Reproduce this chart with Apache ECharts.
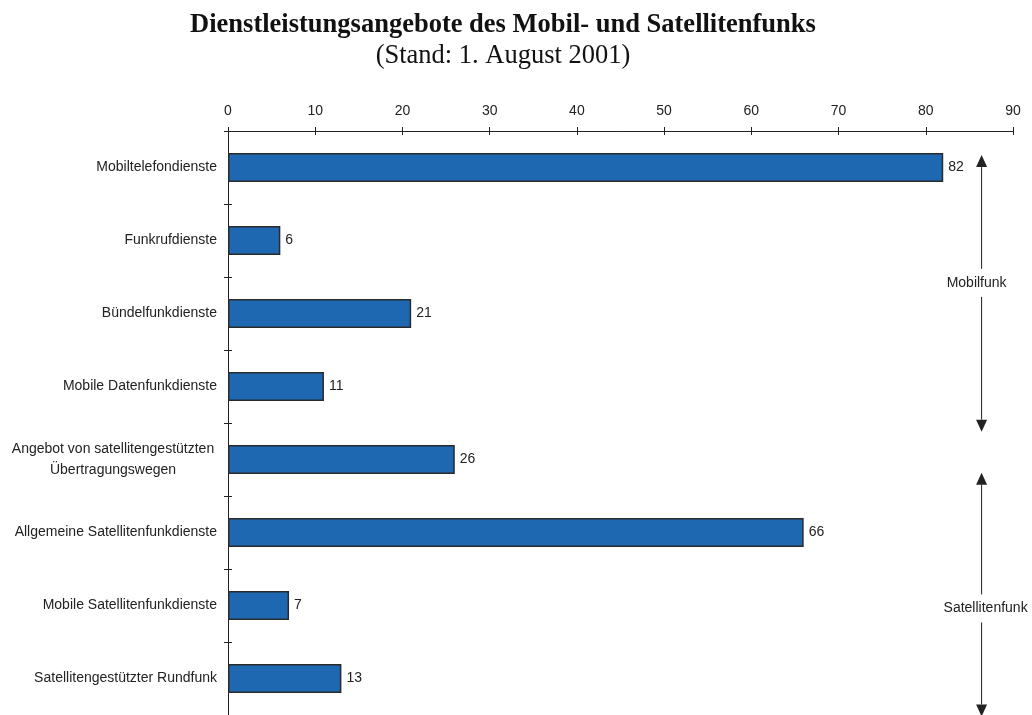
<!DOCTYPE html>
<html>
<head>
<meta charset="utf-8">
<script src="https://cdn.jsdelivr.net/npm/echarts@6/dist/echarts.min.js"></script>
<style>
  html, body { margin: 0; padding: 0; background: #fff; }
  #chart { width: 1032px; height: 715px; }
</style>
</head>
<body>
<div id="chart"></div>
<script>
// Services offered per category (count of offers)
const categories = [
  'Mobiltelefondienste',
  'Funkrufdienste',
  'Bündelfunkdienste',
  'Mobile Datenfunkdienste',
  'Angebot von satellitengestützten\nÜbertragungswegen',
  'Allgemeine Satellitenfunkdienste',
  'Mobile Satellitenfunkdienste',
  'Satellitengestützter Rundfunk'
];
const values = [82, 6, 21, 11, 26, 66, 7, 13];
const xTicks = [0, 10, 20, 30, 40, 50, 60, 70, 80, 90];
const groupLabels = ['Mobilfunk', 'Satellitenfunk'];

const INK = '#222';
const SANS = '"Liberation Sans", Arial, sans-serif';
const SERIF = '"Liberation Serif", "Times New Roman", serif';
const FS = 14;

const chart = echarts.init(document.getElementById('chart'));

function yLabel(v) {
  if (v.indexOf('\n') >= 0) {
    return v.split('\n').map(s => '{c|' + s + '}').join('\n');
  }
  return v;
}

const xCommon = {
  type: 'value',
  position: 'top',
  min: xTicks[0],
  max: xTicks[xTicks.length - 1],
  interval: 10,
  splitLine: { show: false },
  axisLine: { show: true, lineStyle: { color: INK, width: 1 } }
};

chart.setOption({
  animation: false,
  backgroundColor: '#fff',
  title: [
    {
      text: 'Dienstleistungsangebote des Mobil- und Satellitenfunks',
      left: 498, top: 7, textAlign: 'center',
      textStyle: { fontFamily: SERIF, fontWeight: 'bold', fontSize: 26.5, color: '#111' }
    },
    {
      text: '(Stand: 1. August 2001)',
      left: 498, top: 38, textAlign: 'center',
      textStyle: { fontFamily: SERIF, fontWeight: 'normal', fontSize: 26.5, color: '#111' }
    }
  ],
  grid: { left: 228, right: 19, top: 131, bottom: -4, containLabel: false },
  xAxis: [
    Object.assign({}, xCommon, {
      axisTick: { show: true, length: 4, lineStyle: { color: INK } },
      axisLabel: { show: true, margin: 13, fontFamily: SANS, fontSize: FS, color: INK }
    }),
    Object.assign({}, xCommon, {
      axisTick: { show: true, inside: true, length: 4, lineStyle: { color: INK } },
      axisLabel: { show: false }
    })
  ],
  yAxis: [
    {
      type: 'category',
      inverse: true,
      data: categories,
      axisLine: { show: true, lineStyle: { color: INK, width: 1 } },
      axisTick: { show: true, length: 4, lineStyle: { color: INK } },
      axisLabel: {
        margin: 11, fontFamily: SANS, fontSize: FS, color: INK, lineHeight: 21,
        formatter: yLabel,
        rich: { c: { width: 208, align: 'center', fontFamily: SANS, fontSize: FS, color: INK, lineHeight: 21 } }
      }
    },
    {
      type: 'category',
      inverse: true,
      position: 'left',
      data: categories,
      axisLine: { show: false },
      axisTick: { show: true, inside: true, length: 4, lineStyle: { color: INK } },
      axisLabel: { show: false }
    }
  ],
  series: [{
    type: 'bar',
    xAxisIndex: 0,
    yAxisIndex: 0,
    data: values,
    barWidth: 29,
    itemStyle: { color: '#1e68b2', borderColor: '#2a2a2a', borderWidth: 1.5 },
    label: {
      show: true, position: 'right', distance: 5,
      fontFamily: SANS, fontSize: FS, color: INK
    }
  }]
});

// Bracket arrows on the right marking the two service groups
function drawGroups() {
  const x = chart.convertToPixel({ xAxisIndex: 0 }, 86.4);
  const c0 = chart.convertToPixel({ yAxisIndex: 0 }, 0);
  const c1 = chart.convertToPixel({ yAxisIndex: 0 }, 1);
  const band = c1 - c0;
  const yAt = f => c0 + band * f;
  const groups = [
    { label: groupLabels[0], top: yAt(-0.17), bottom: yAt(3.62), text: yAt(1.58), dx: -5 },
    { label: groupLabels[1], top: yAt(4.18), bottom: yAt(7.52), text: yAt(6.04), dx: 4 }
  ];
  const els = [];
  const head = 12, half = 5.5, gap = 14;
  groups.forEach(g => {
    els.push({ type: 'line', shape: { x1: x, y1: g.top + head, x2: x, y2: g.text - gap },
      style: { stroke: INK, lineWidth: 1 } });
    els.push({ type: 'line', shape: { x1: x, y1: g.text + gap, x2: x, y2: g.bottom - head },
      style: { stroke: INK, lineWidth: 1 } });
    els.push({ type: 'polygon', shape: { points: [[x, g.top], [x - half, g.top + head], [x + half, g.top + head]] },
      style: { fill: INK } });
    els.push({ type: 'polygon', shape: { points: [[x, g.bottom], [x - half, g.bottom - head], [x + half, g.bottom - head]] },
      style: { fill: INK } });
    els.push({ type: 'text', x: x + g.dx, y: g.text,
      style: { text: g.label, font: FS + 'px ' + SANS, fill: INK, align: 'center', verticalAlign: 'middle' } });
  });
  chart.setOption({ graphic: els });
}
drawGroups();
</script>
</body>
</html>
